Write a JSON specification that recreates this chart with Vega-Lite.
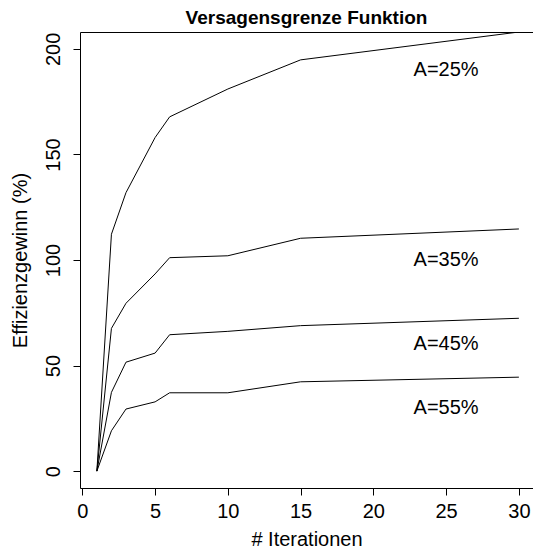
{
  "$schema": "https://vega.github.io/schema/vega-lite/v6.json",
  "autosize": {"type": "none"},
  "padding": {"left": 80, "top": 32, "right": 0, "bottom": 62},
  "width": 453,
  "height": 456,
  "background": "white",
  "title": {
    "text": "Versagensgrenze Funktion",
    "font": "Liberation Sans",
    "fontSize": 19,
    "fontWeight": "bold",
    "color": "black",
    "anchor": "middle",
    "baseline": "alphabetic",
    "offset": -11
  },
  "config": {
    "view": {"stroke": null},
    "axis": {
      "grid": false,
      "domainColor": "black",
      "domainWidth": 1,
      "tickColor": "black",
      "tickWidth": 1,
      "tickSize": 7,
      "labelFont": "Liberation Sans",
      "labelFontSize": 20,
      "labelColor": "black",
      "titleFont": "Liberation Sans",
      "titleFontSize": 20,
      "titleFontWeight": "normal",
      "titleColor": "black"
    }
  },
  "datasets": {
    "curves": [
      {"serie": "A=25%", "iter": 1, "gewinn": 0},
      {"serie": "A=25%", "iter": 2, "gewinn": 112.2},
      {"serie": "A=25%", "iter": 3, "gewinn": 131.9},
      {"serie": "A=25%", "iter": 5, "gewinn": 158.0},
      {"serie": "A=25%", "iter": 6, "gewinn": 167.8},
      {"serie": "A=25%", "iter": 10, "gewinn": 181.0},
      {"serie": "A=25%", "iter": 15, "gewinn": 194.8},
      {"serie": "A=25%", "iter": 30, "gewinn": 208.0},
      {"serie": "A=35%", "iter": 1, "gewinn": 0},
      {"serie": "A=35%", "iter": 2, "gewinn": 67.6},
      {"serie": "A=35%", "iter": 3, "gewinn": 79.5},
      {"serie": "A=35%", "iter": 5, "gewinn": 93.4},
      {"serie": "A=35%", "iter": 6, "gewinn": 101.1},
      {"serie": "A=35%", "iter": 10, "gewinn": 102.0},
      {"serie": "A=35%", "iter": 15, "gewinn": 110.3},
      {"serie": "A=35%", "iter": 30, "gewinn": 114.7},
      {"serie": "A=45%", "iter": 1, "gewinn": 0},
      {"serie": "A=45%", "iter": 2, "gewinn": 37.3},
      {"serie": "A=45%", "iter": 3, "gewinn": 51.6},
      {"serie": "A=45%", "iter": 5, "gewinn": 55.9},
      {"serie": "A=45%", "iter": 6, "gewinn": 64.6},
      {"serie": "A=45%", "iter": 10, "gewinn": 66.2},
      {"serie": "A=45%", "iter": 15, "gewinn": 68.9},
      {"serie": "A=45%", "iter": 30, "gewinn": 72.4},
      {"serie": "A=55%", "iter": 1, "gewinn": 0},
      {"serie": "A=55%", "iter": 2, "gewinn": 19.1},
      {"serie": "A=55%", "iter": 3, "gewinn": 29.4},
      {"serie": "A=55%", "iter": 5, "gewinn": 32.8},
      {"serie": "A=55%", "iter": 6, "gewinn": 37.1},
      {"serie": "A=55%", "iter": 10, "gewinn": 37.1},
      {"serie": "A=55%", "iter": 15, "gewinn": 42.3},
      {"serie": "A=55%", "iter": 30, "gewinn": 44.5}
    ],
    "labels": [
      {"serie": "A=25%", "iter": 25, "gewinn": 190},
      {"serie": "A=35%", "iter": 25, "gewinn": 100},
      {"serie": "A=45%", "iter": 25, "gewinn": 60},
      {"serie": "A=55%", "iter": 25, "gewinn": 30}
    ]
  },
  "layer": [
    {
      "data": {"name": "curves"},
      "mark": {"type": "line", "color": "black", "strokeWidth": 1, "clip": true},
      "encoding": {
        "x": {
          "field": "iter",
          "type": "quantitative",
          "scale": {"domain": [-0.16, 30.97], "nice": false, "zero": false},
          "axis": {
            "orient": "bottom",
            "values": [0, 5, 10, 15, 20, 25, 30],
            "labelBaseline": "alphabetic",
            "labelPadding": 22,
            "labelFlush": false,
            "labelOverlap": false,
            "title": "# Iterationen",
            "titleBaseline": "alphabetic",
            "titleY": 57
          }
        },
        "y": {
          "field": "gewinn",
          "type": "quantitative",
          "scale": {"domain": [-8, 208], "nice": false, "zero": false},
          "axis": {
            "values": [0, 50, 100, 150, 200],
            "labelAngle": 270,
            "labelAlign": "center",
            "labelBaseline": "alphabetic",
            "labelPadding": 14,
            "labelFlush": false,
            "labelOverlap": false,
            "title": "Effizienzgewinn (%)",
            "titleAngle": 270,
            "titleBaseline": "alphabetic",
            "titleAlign": "center",
            "titleX": -54
          }
        },
        "detail": {"field": "serie"}
      }
    },
    {
      "data": {"name": "labels"},
      "mark": {"type": "text", "font": "Liberation Sans", "fontSize": 20, "color": "black", "align": "center", "baseline": "middle"},
      "encoding": {
        "x": {
          "field": "iter",
          "type": "quantitative",
          "axis": {"orient": "top", "domain": true, "ticks": false, "labels": false, "title": null}
        },
        "y": {"field": "gewinn", "type": "quantitative"},
        "text": {"field": "serie"}
      }
    }
  ],
  "resolve": {"axis": {"x": "independent"}}
}
